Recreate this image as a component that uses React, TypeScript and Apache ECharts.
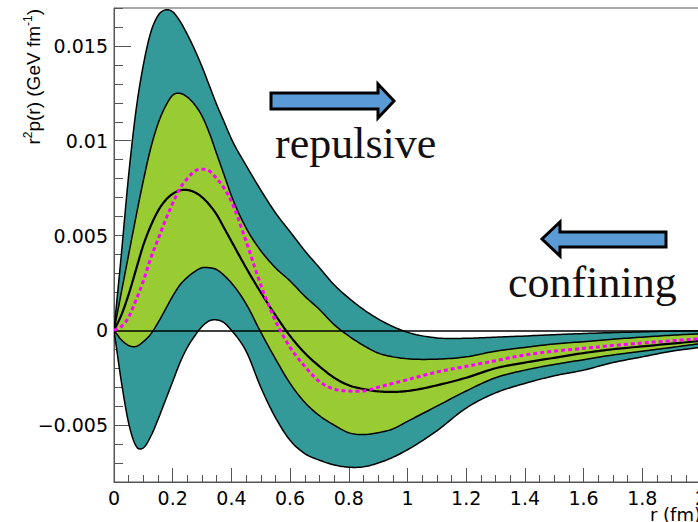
import React, { useEffect, useRef } from "react";
import * as echarts from "echarts";

// radius grid (fm)
const R = [0, 0.025, 0.05, 0.075, 0.1, 0.125, 0.15, 0.175, 0.2, 0.225, 0.25, 0.275, 0.3, 0.325, 0.35, 0.375, 0.4, 0.45, 0.5, 0.55, 0.6, 0.65, 0.7, 0.75, 0.8, 0.85, 0.9, 0.95, 1.0, 1.1, 1.2, 1.3, 1.4, 1.5, 1.6, 1.7, 1.8, 1.9, 2.0];

// outer (teal) band
const TEAL_UPPER = [0, 0.004, 0.0082, 0.0116, 0.014, 0.0157, 0.0166, 0.0169, 0.0168, 0.0163, 0.0156, 0.0148, 0.0139, 0.0129, 0.0119, 0.011, 0.0101, 0.0087, 0.0074, 0.0062, 0.0052, 0.0042, 0.0033, 0.0024, 0.0017, 0.0011, 0.0006, 0.0002, -0.0001, -0.0004, -0.00042, -0.00036, -0.0003, -0.00023, -0.00017, -0.00012, -0.00008, -0.00004, -0.00002];
const TEAL_LOWER = [0, -0.0027, -0.0049, -0.0061, -0.0062, -0.0056, -0.0047, -0.0037, -0.0027, -0.0017, -0.0009, -0.0003, 0.0002, 0.0005, 0.00055, 0.0004, 0.0, -0.0011, -0.003, -0.0046, -0.0058, -0.0065, -0.00685, -0.0071, -0.00722, -0.0072, -0.007, -0.0067, -0.0063, -0.0053, -0.0041, -0.0033, -0.0028, -0.0024, -0.0021, -0.0017, -0.0014, -0.0011, -0.0009];

// inner (green) band
const GREEN_UPPER = [0, 0.002, 0.004, 0.006, 0.0079, 0.0096, 0.0109, 0.0118, 0.0124, 0.0125, 0.0123, 0.0119, 0.0113, 0.0104, 0.0093, 0.0082, 0.0071, 0.0054, 0.0042, 0.0033, 0.0026, 0.0018, 0.0011, 0.0003, -0.0003, -0.0008, -0.0012, -0.0014, -0.0015, -0.00152, -0.0014, -0.0011, -0.0009, -0.00072, -0.0006, -0.00047, -0.00036, -0.00026, -0.00018];
const GREEN_LOWER = [0, -0.0005, -0.0008, -0.00085, -0.0006, -0.0002, 0.0004, 0.0011, 0.0018, 0.0024, 0.0028, 0.0031, 0.0033, 0.0033, 0.0032, 0.0029, 0.0025, 0.0014, -0.0001, -0.0015, -0.0028, -0.0038, -0.0045, -0.005, -0.0054, -0.0055, -0.0054, -0.0052, -0.0048, -0.004, -0.0032, -0.0025, -0.0021, -0.0018, -0.00155, -0.0013, -0.0011, -0.0009, -0.0007];

// central curve
const CENTRAL = [0, 0.0008, 0.0019, 0.0032, 0.0045, 0.0055, 0.0063, 0.00685, 0.0072, 0.00738, 0.0074, 0.00728, 0.00702, 0.00662, 0.0061, 0.0054, 0.0047, 0.0033, 0.002, 0.0008, -0.0003, -0.0012, -0.0019, -0.0025, -0.0029, -0.0031, -0.00322, -0.00325, -0.0032, -0.0029, -0.0025, -0.002, -0.0017, -0.00145, -0.0012, -0.001, -0.00085, -0.0007, -0.00056];

// magenta dashed curve
const MAGENTA = [0, 0.0002, 0.0007, 0.0016, 0.0026, 0.0038, 0.0048, 0.0058, 0.0067, 0.0075, 0.008, 0.0084, 0.0085, 0.0084, 0.008, 0.0075, 0.0068, 0.0047, 0.0024, 0.0005, -0.0009, -0.0019, -0.0027, -0.0031, -0.0032, -0.0032, -0.003, -0.0028, -0.0026, -0.0022, -0.0019, -0.0016, -0.0013, -0.0011, -0.00095, -0.0008, -0.00067, -0.00055, -0.00044];

const Y_MAJOR = [-0.005, 0, 0.005, 0.01, 0.015];
const X_MIN = 0;
const X_MAX = 2;
const Y_MIN = -0.008;
const Y_MAX = 0.017;

const TEAL = "#339999";
const GREEN = "#99cc33";
const AXIS_COLOR = "#555";

const fmtY = (v: number) => {
  if (Math.abs(v) < 1e-12) return "0";
  const s = String(Math.round(Math.abs(v) * 1e6) / 1e6);
  return v < 0 ? "\u2212" + s : s;
};

// Smooth drawing of a curve through pixel points (cubic Hermite, x monotone)
function smoothPath(pts: number[][], steps = 10): number[][] {
  const n = pts.length;
  if (n < 3) return pts;
  const h: number[] = [];
  const d: number[] = [];
  for (let i = 0; i < n - 1; i++) {
    h[i] = pts[i + 1][0] - pts[i][0];
    d[i] = (pts[i + 1][1] - pts[i][1]) / h[i];
  }
  const m: number[] = [];
  m[0] = d[0];
  m[n - 1] = d[n - 2];
  for (let i = 1; i < n - 1; i++) {
    m[i] = (h[i] * d[i - 1] + h[i - 1] * d[i]) / (h[i - 1] + h[i]);
  }
  const out: number[][] = [pts[0]];
  for (let i = 0; i < n - 1; i++) {
    const [x0, y0] = pts[i];
    const y1 = pts[i + 1][1];
    for (let s = 1; s <= steps; s++) {
      const t = s / steps;
      const t2 = t * t;
      const t3 = t2 * t;
      const h00 = 2 * t3 - 3 * t2 + 1;
      const h10 = t3 - 2 * t2 + t;
      const h01 = -2 * t3 + 3 * t2;
      const h11 = t3 - t2;
      out.push([x0 + t * h[i], h00 * y0 + h10 * h[i] * m[i] + h01 * y1 + h11 * h[i] * m[i + 1]]);
    }
  }
  return out;
}

export default function App() {
  const ref = useRef<HTMLDivElement>(null);
  useEffect(() => {
    if (!ref.current) return;
    const chart = echarts.init(ref.current, undefined, { renderer: "svg" });

    const band = (name: string, up: number[], lo: number[], color: string, z: number) => ({
      name,
      type: "custom",
      coordinateSystem: "cartesian2d",
      silent: true,
      clip: true,
      z,
      data: [[R[0], up[0]]],
      renderItem: (_params: any, api: any) => {
        const top = smoothPath(R.map((r, i) => api.coord([r, up[i]])));
        const bottom = smoothPath(R.map((r, i) => api.coord([r, lo[i]])));
        return {
          type: "group",
          children: [
            {
              type: "polygon",
              shape: { points: top.concat(bottom.slice().reverse()) },
              style: { fill: color, stroke: "none" },
            },
            {
              type: "polyline",
              shape: { points: top },
              style: { fill: "none", stroke: "#000", lineWidth: 1.5 },
            },
            {
              type: "polyline",
              shape: { points: bottom },
              style: { fill: "none", stroke: "#000", lineWidth: 1.5 },
            },
          ],
        };
      },
    });

    const curve = (name: string, ys: number[], width: number, color: string, z: number, dash?: number[]) => ({
      name,
      type: "custom",
      coordinateSystem: "cartesian2d",
      silent: true,
      clip: true,
      z,
      data: [[R[0], ys[0]]],
      renderItem: (_params: any, api: any) => ({
        type: "polyline",
        shape: { points: smoothPath(R.map((r, i) => api.coord([r, ys[i]]))) },
        style: dash
          ? { fill: "none", stroke: color, lineWidth: width, lineDash: dash }
          : { fill: "none", stroke: color, lineWidth: width },
      }),
    });

    chart.setOption({
      animation: false,
      backgroundColor: "#fff",
      grid: {
        left: 114,
        top: 8,
        width: 587,
        height: 474,
        show: true,
        borderColor: AXIS_COLOR,
        borderWidth: 1,
        backgroundColor: "transparent",
        containLabel: false,
        outerBoundsMode: "none",
      },
      xAxis: {
        type: "value",
        min: X_MIN,
        max: X_MAX,
        interval: 0.2,
        axisLine: { show: true, onZero: false, lineStyle: { color: AXIS_COLOR, width: 1 } },
        axisTick: { show: true, inside: true, length: 14, lineStyle: { color: AXIS_COLOR, width: 1 } },
        minorTick: { show: true, splitNumber: 4, length: 7, lineStyle: { color: AXIS_COLOR, width: 1 } },
        splitLine: { show: false },
        minorSplitLine: { show: false },
        axisLabel: {
          margin: 6,
          color: "#000",
          fontFamily: "DejaVu Sans",
          fontSize: 19,
          formatter: (v: number) => String(Math.round(v * 10) / 10),
        },
      },
      yAxis: [
        {
          type: "value",
          min: Y_MIN,
          max: Y_MAX,
          position: "left",
          axisLine: { show: true, onZero: false, lineStyle: { color: AXIS_COLOR, width: 1 } },
          axisTick: { show: true, inside: true, length: 17, customValues: Y_MAJOR, lineStyle: { color: AXIS_COLOR, width: 1 } },
          splitLine: { show: false },
          axisLabel: {
            customValues: Y_MAJOR,
            margin: 6,
            color: "#000",
            fontFamily: "DejaVu Sans",
            fontSize: 19,
            formatter: fmtY,
          },
        },
        {
          type: "value",
          min: Y_MIN,
          max: Y_MAX,
          interval: 0.001,
          position: "left",
          offset: 0,
          axisLine: { show: false },
          axisTick: { show: true, inside: true, length: 9, lineStyle: { color: AXIS_COLOR, width: 1 } },
          axisLabel: { show: false },
          splitLine: { show: false },
        },
      ],
      graphic: [
        {
          type: "text",
          x: 32,
          y: 9,
          rotation: Math.PI / 2,
          style: {
            text: "{n|r}{s|2}{n|p(r) (GeV fm}{s|-1}{n|)}",
            align: "right",
            verticalAlign: "middle",
            fill: "#000",
            rich: {
              n: { fontFamily: "Liberation Sans", fontSize: 19, lineHeight: 21, verticalAlign: "bottom" },
              s: { fontFamily: "Liberation Sans", fontSize: 12, lineHeight: 21, verticalAlign: "top" },
            },
          },
        },
        {
          type: "text",
          x: 701,
          y: 514,
          style: {
            text: "r (fm)",
            align: "right",
            verticalAlign: "middle",
            fontFamily: "DejaVu Sans",
            fontSize: 18,
            fill: "#000",
          },
        },
        {
          type: "polygon",
          shape: { points: [[271, 93], [378, 93], [378, 84], [394, 101], [378, 118], [378, 109], [271, 109]] },
          style: { fill: "#5b9bd5", stroke: "#000", lineWidth: 3, lineJoin: "miter" },
          z: 10,
        },
        {
          type: "polygon",
          shape: { points: [[666, 232], [560, 232], [560, 222], [542, 239], [560, 256], [560, 247], [666, 247]] },
          style: { fill: "#5b9bd5", stroke: "#000", lineWidth: 3, lineJoin: "miter" },
          z: 10,
        },
        {
          type: "text",
          x: 275,
          y: 143,
          style: {
            text: "repulsive",
            align: "left",
            verticalAlign: "middle",
            fontFamily: "Liberation Serif",
            fontSize: 44,
            fill: "#111",
          },
          z: 10,
        },
        {
          type: "text",
          x: 508,
          y: 282,
          style: {
            text: "confining",
            align: "left",
            verticalAlign: "middle",
            fontFamily: "Liberation Serif",
            fontSize: 44,
            fill: "#111",
          },
          z: 10,
        },
      ],
      series: [
        band("tealBand", TEAL_UPPER, TEAL_LOWER, TEAL, 1),
        band("greenBand", GREEN_UPPER, GREEN_LOWER, GREEN, 2),
        {
          name: "zero",
          type: "line",
          data: [],
          silent: true,
          z: 3,
          markLine: {
            silent: true,
            symbol: ["none", "none"],
            label: { show: false },
            lineStyle: { color: "#000", width: 1.5, type: "solid" },
            data: [{ yAxis: 0 }],
            z: 3,
          },
        },
        curve("central", CENTRAL, 2.2, "#000", 4),
        curve("magenta", MAGENTA, 3, "#ff00ff", 5, [4, 3]),
      ],
    });
    return () => chart.dispose();
  }, []);
  return (
    <div
      ref={ref}
      style={{ position: "absolute", left: 0, top: 0, width: 698, height: 522, background: "#fff" }}
    />
  );
}
